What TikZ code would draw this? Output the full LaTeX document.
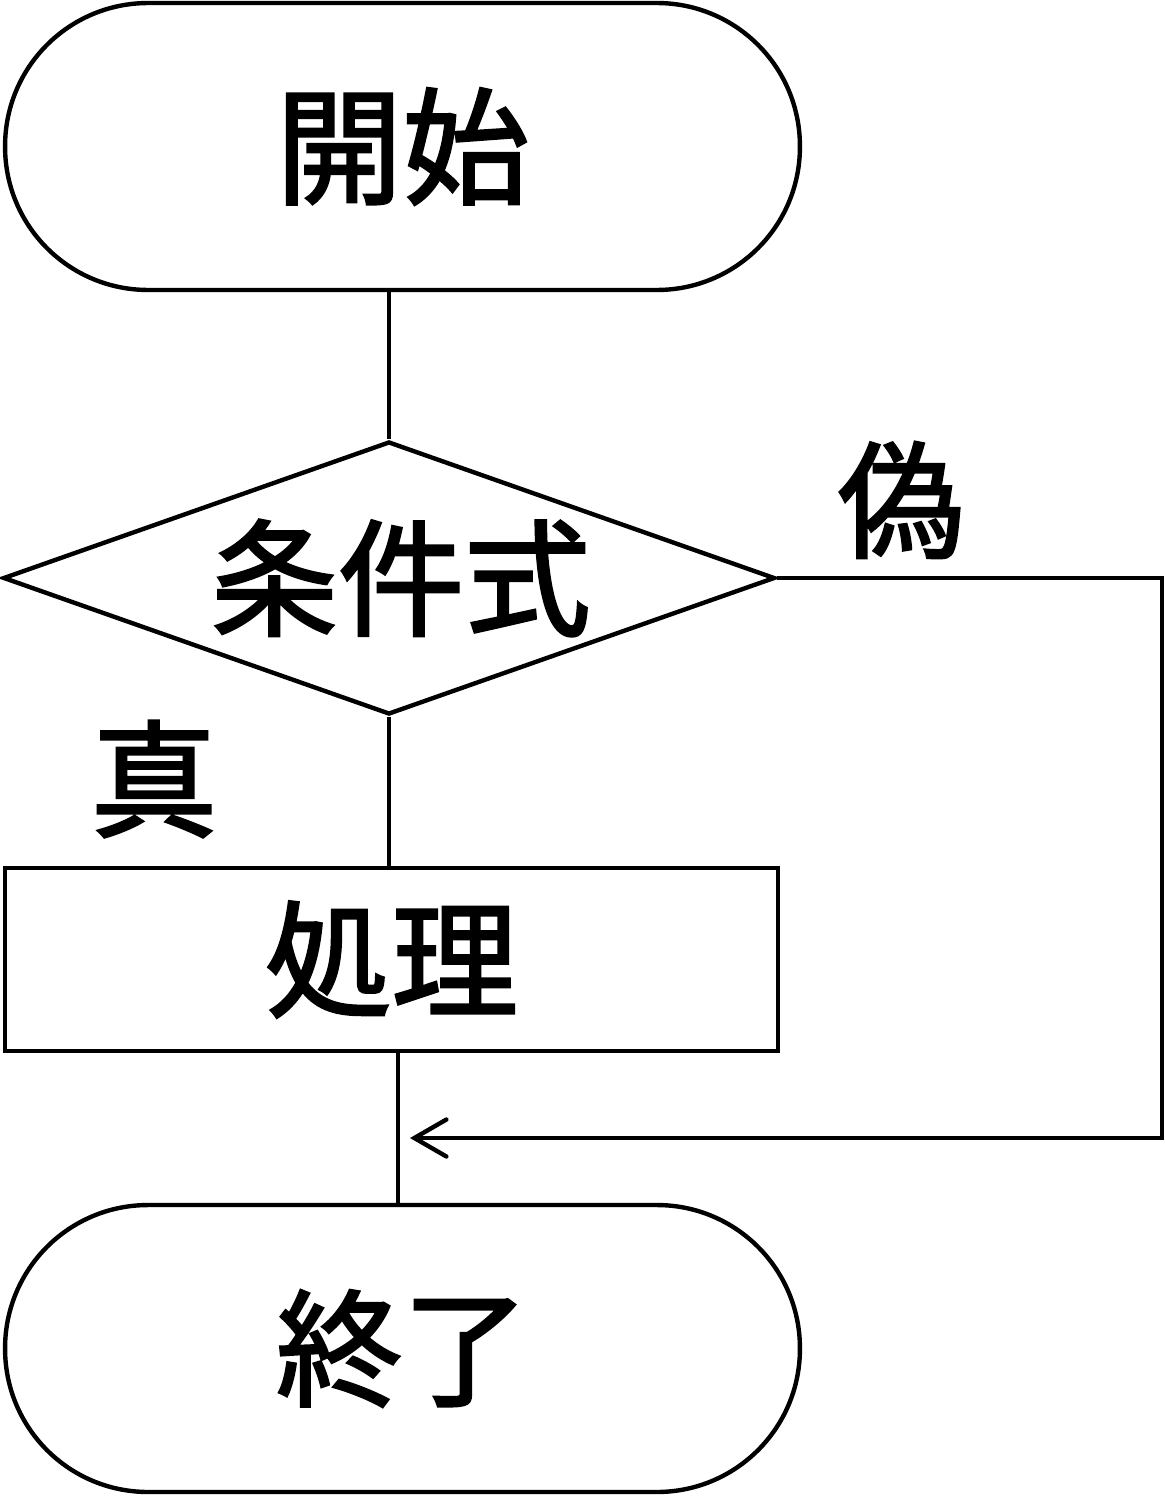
\documentclass[tikz,border=0pt]{standalone}
\usepackage{fontspec}
\newfontfamily\flowfont[FakeBold=2]{Noto Sans CJK JP}
\usetikzlibrary{shapes.geometric,arrows.meta}
\begin{document}
\begin{tikzpicture}[x=0.02cm, y=-0.02cm, line width=2.5pt,
  bigtext/.style={font=\flowfont\fontsize{72}{80}\selectfont},
  terminal/.style={draw, rectangle, rounded corners=2.86cm, minimum width=15.9cm,
    minimum height=5.74cm, inner sep=0pt, bigtext},
  decision/.style={draw, diamond, aspect=2.83, minimum width=15.44cm,
    minimum height=5.46cm, inner sep=0pt, bigtext},
  process/.style={draw, rectangle, minimum width=15.46cm, minimum height=3.66cm,
    inner sep=0pt, bigtext},
  branchtext/.style={inner sep=0pt, bigtext},
  back/.style={-{Straight Barb[length=0.64cm, width=0.74cm, line cap=round]}}]
  \useasboundingbox (0,0) rectangle (1165,1497);

  % blocks
  \node[terminal] (s) at (402.5,146.5) {開始};
  \node[decision] (d) at (389,578) {\hspace{0.48cm}条件式};
  \node[process]  (p) at (391.5,959.5) {\raisebox{-0.16cm}{処理}};
  \node[terminal] (e) at (402.5,1348.5) {終了};

  % branch labels
  \node[branchtext] (f) at (901,500) {偽};
  \node[branchtext] (t) at (154,779) {真};

  % helper points of the false branch
  \coordinate (c1) at (1162,578);
  \coordinate (tip) at (410,1138);
  \coordinate (j) at (398,1138);

  % connectors
  \draw (d.north) -- (d.north |- s.south);
  \draw (d.south) -- (d.south |- p.north);
  \draw (j |- p.south) -- (j |- e.north);
  \draw[back] (d.east) -- (c1) |- (tip);
\end{tikzpicture}
\end{document}
